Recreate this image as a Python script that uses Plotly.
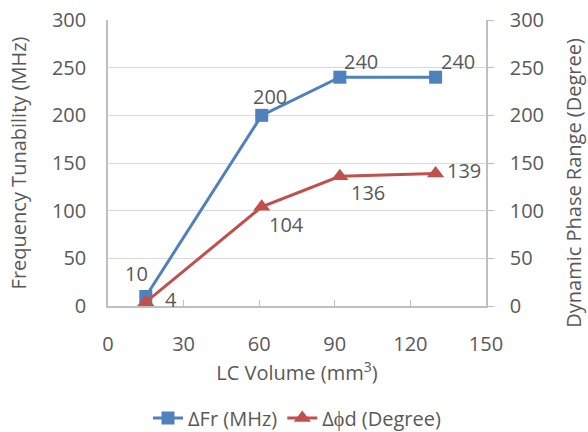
import plotly.graph_objects as go

volume = [15, 61, 92, 130]
freq_tun = [10, 200, 240, 240]
phase_range = [4, 104, 136, 139]

x_ticks = [0, 30, 60, 90, 120, 150]
y_ticks = [0, 50, 100, 150, 200, 250, 300]

BLUE = "#4f81bd"
RED = "#c0504d"
TXT = "#595959"
FONT = "Open Sans"
FS = 20

fig = go.Figure()
fig.add_trace(go.Scatter(
    x=volume, y=freq_tun, name="ΔFr (MHz)", mode="lines+markers",
    line=dict(color=BLUE, width=3),
    marker=dict(symbol="square", size=13, color=BLUE),
))
fig.add_trace(go.Scatter(
    x=volume, y=phase_range, name="Δϕd (Degree)", mode="lines+markers",
    line=dict(color=RED, width=3),
    marker=dict(symbol="triangle-up", size=15, color=RED),
    yaxis="y2",
))

blue_shift = [(-9, 23), (8, 19), (21, 16), (22, 16)]
red_shift = [(25, 3), (25, -18), (28, -16), (28, 3)]
for xv, yv, (dx, dy) in zip(volume, freq_tun, blue_shift):
    fig.add_annotation(x=xv, y=yv, text=str(yv), showarrow=False, xshift=dx, yshift=dy,
                       font=dict(family=FONT, size=FS, color=TXT))
for xv, yv, (dx, dy) in zip(volume, phase_range, red_shift):
    fig.add_annotation(x=xv, y=yv, yref="y2", text=str(yv), showarrow=False, xshift=dx, yshift=dy,
                       font=dict(family=FONT, size=FS, color=TXT))

# right axis title placed as annotation (it sits lower than the plot centre)
fig.add_annotation(text="Dynamic Phase Range (Degree)", xref="paper", yref="paper",
                   x=1.2295, y=0.43, xanchor="center", yanchor="middle",
                   textangle=-90, showarrow=False,
                   font=dict(family=FONT, size=FS, color=TXT))

axis_line = "#bfbfbf"
fig.update_layout(
    width=588, height=432,
    margin=dict(l=108, r=102, t=20, b=126, autoexpand=False),
    paper_bgcolor="white", plot_bgcolor="white",
    font=dict(family=FONT, size=FS, color=TXT),
    showlegend=True,
    legend=dict(orientation="h", x=0.5, xanchor="center", y=-0.392, yanchor="middle",
                font=dict(family=FONT, size=FS, color=TXT)),
    xaxis=dict(
        range=[0, 150], tickvals=x_ticks, ticks="inside", ticklen=6, tickcolor=axis_line,
        showline=True, linecolor=axis_line, linewidth=1.5, showgrid=False, zeroline=False,
        ticklabelstandoff=19, automargin=False, ticklabeloverflow="allow",
        title=dict(text="LC Volume (mm<sup>3</sup>)", standoff=2, font=dict(size=FS)),
    ),
    yaxis=dict(
        range=[0, 300], tickvals=y_ticks, showline=True, linecolor=axis_line, linewidth=1.5,
        gridcolor="#d9d9d9", gridwidth=1.2, zeroline=False, ticks="", ticklabelstandoff=16,
        automargin=False, ticklabeloverflow="allow",
        title=dict(text="Frequency Tunability (MHz)", standoff=20, font=dict(size=FS)),
    ),
    yaxis2=dict(
        range=[0, 300], tickvals=y_ticks, overlaying="y", side="right",
        showline=True, linecolor=axis_line, linewidth=1.5, showgrid=False, zeroline=False,
        ticks="outside", ticklen=6, tickcolor=axis_line, ticklabelstandoff=12,
        automargin=False, ticklabeloverflow="allow",
    ),
)

# remove the browser's default 8px body margin so the figure fills the window exactly
fig.write_html("out.html", config={"displayModeBar": False},
               post_script="document.body.style.margin='0';")
